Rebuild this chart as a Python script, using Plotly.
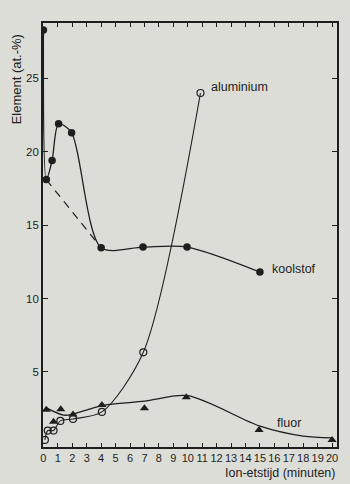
import plotly.graph_objects as go

# Ion etching time (minutes) and element concentration (at.-%)
koolstof_t = [0.0, 0.2, 0.6, 1.05, 1.95, 4.0, 6.9, 9.95, 15.0]
koolstof_v = [28.3, 18.1, 19.4, 21.9, 21.3, 13.46, 13.5, 13.5, 11.8]

# dashed alternative course of the carbon curve
koolstof_dash_t = [0.2, 4.0]
koolstof_dash_v = [18.1, 13.46]

aluminium_t = [0.1, 0.3, 0.7, 1.17, 2.05, 4.05, 6.92, 10.88]
aluminium_v = [0.36, 1.0, 1.0, 1.66, 1.79, 2.27, 6.33, 24.0]

fluor_t = [0.2, 0.7, 1.2, 2.05, 4.05, 7.0, 9.9, 14.94, 20.0]
fluor_v = [2.42, 1.6, 2.45, 2.1, 2.74, 2.52, 3.27, 1.04, 0.36]

# smoothed trend drawn through the fluorine measurements
fluor_curve_t = [0.2, 1.4, 2.05, 4.05, 7.0, 10.0, 15.0, 18.0, 20.0]
fluor_curve_v = [2.55, 2.05, 2.12, 2.7, 3.0, 3.38, 1.3, 0.62, 0.5]

x_ticks = list(range(0, 21))
y_ticks = [5, 10, 15, 20, 25]

INK = "#1e1e1e"
BG = "#dcddd6"
FONT = "Liberation Sans, Arial, sans-serif"

fig = go.Figure()

fig.add_trace(go.Scatter(
    x=koolstof_dash_t, y=koolstof_dash_v, mode="lines",
    line=dict(color=INK, width=1.2, dash="8px,6px"), showlegend=False))

fig.add_trace(go.Scatter(
    x=koolstof_t, y=koolstof_v, mode="lines+markers",
    line=dict(color=INK, width=1.3, shape="spline", smoothing=0.8),
    marker=dict(symbol="circle", size=7.5, color=INK),
    showlegend=False))

fig.add_trace(go.Scatter(
    x=aluminium_t, y=aluminium_v, mode="lines+markers",
    line=dict(color=INK, width=1.1, shape="spline", smoothing=0.8),
    marker=dict(symbol="circle-open", size=7, color=INK, line=dict(width=1.2)),
    showlegend=False))

fig.add_trace(go.Scatter(
    x=fluor_curve_t, y=fluor_curve_v, mode="lines",
    line=dict(color=INK, width=1.3, shape="spline", smoothing=0.8),
    showlegend=False))

fig.add_trace(go.Scatter(
    x=fluor_t, y=fluor_v, mode="markers",
    marker=dict(symbol="triangle-up", size=8, color=INK),
    showlegend=False))

label_font = dict(family=FONT, size=12.5, color=INK)
fig.add_annotation(x=11.45, y=24.4, text="aluminium", showarrow=False,
                   xanchor="left", yanchor="middle", font=label_font)
fig.add_annotation(x=15.7, y=12.0, text="koolstof", showarrow=False,
                   xanchor="left", yanchor="middle", font=label_font)
fig.add_annotation(x=16.07, y=1.52, text="fluor", showarrow=False,
                   xanchor="left", yanchor="middle", font=label_font)

fig.add_annotation(xref="paper", yref="paper", x=1.0, y=-0.062,
                   text="Ion-etstijd (minuten)", showarrow=False,
                   xanchor="right", yanchor="middle", font=label_font)
fig.add_annotation(xref="paper", yref="paper", x=-0.09, y=0.866,
                   text="Element (at.-%)", showarrow=False, textangle=-90,
                   xanchor="center", yanchor="middle",
                   font=dict(family=FONT, size=13, color=INK))

fig.update_xaxes(
    range=[-0.03, 20.34], tickmode="array", tickvals=x_ticks,
    ticktext=[str(v) for v in x_ticks], tickangle=0,
    ticks="inside", ticklen=4, tickwidth=1, tickcolor=INK,
    showline=True, linecolor=INK, linewidth=1.6, mirror="ticks",
    showgrid=False, zeroline=False,
    tickfont=dict(family=FONT, size=11, color=INK))
fig.update_yaxes(
    range=[-0.12, 28.77], tickmode="array", tickvals=y_ticks,
    ticktext=[str(v) for v in y_ticks],
    ticks="inside", ticklen=5, tickwidth=1, tickcolor=INK,
    showline=True, linecolor=INK, linewidth=1.8, mirror="ticks",
    showgrid=False, zeroline=False,
    tickfont=dict(family=FONT, size=11.5, color=INK))

fig.update_layout(
    width=350, height=484,
    margin=dict(l=43, r=11, t=23, b=37),
    paper_bgcolor=BG, plot_bgcolor=BG,
    showlegend=False)

fig.write_html("out.html")
